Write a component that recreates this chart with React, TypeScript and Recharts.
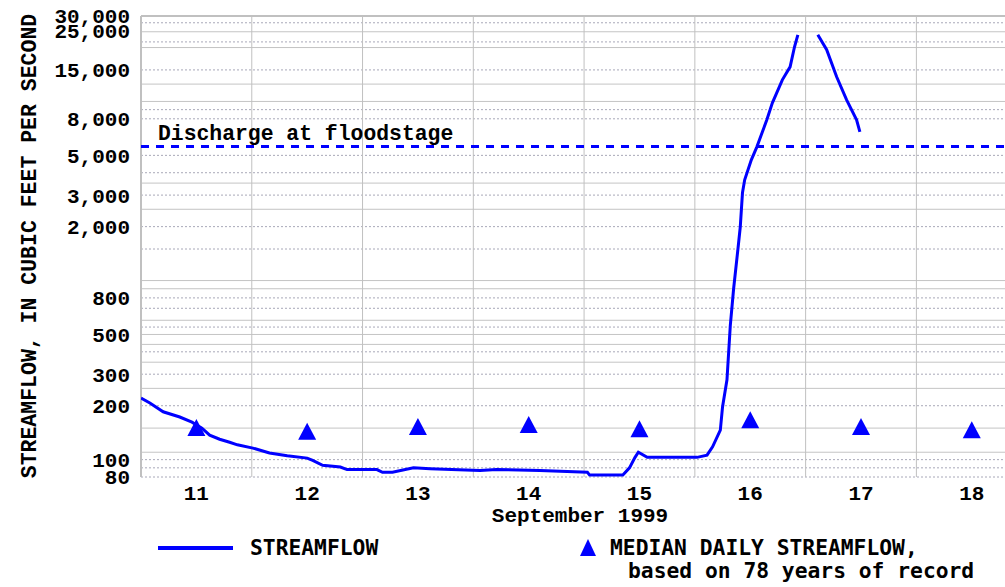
import React from "react";
import {
  ComposedChart,
  Line,
  Scatter,
  XAxis,
  YAxis,
  ReferenceLine,
} from "recharts";

// streamflow, days of September 1999 (fractional) vs cubic feet per second
const flowTimes = [
  11.0, 11.08, 11.2, 11.35, 11.46, 11.55, 11.62, 11.71, 11.8, 11.87, 12.01,
  12.16, 12.32, 12.5, 12.55, 12.64, 12.8, 12.86, 13.13, 13.18, 13.27, 13.46,
  13.61, 14.06, 14.21, 14.6, 15.03, 15.05, 15.35, 15.41, 15.46, 15.49, 15.57,
  16.02, 16.11, 16.16, 16.23, 16.25, 16.29, 16.32, 16.35, 16.39, 16.41, 16.43,
  16.45, 16.51, 16.56, 16.65, 16.7, 16.79, 16.86, 16.9, 16.93, 17.02, 17.11,
  17.19, 17.28, 17.37, 17.46, 17.49,
];
const flowValues: (number | null)[] = [
  221, 207, 185, 173, 162, 150, 137, 130, 125, 121, 116, 109, 105, 102, 99, 93,
  91, 88, 88, 85, 85, 90, 89, 87, 88, 87, 85, 82, 82, 90, 103, 110, 103, 103,
  106, 118, 146, 197, 279, 560, 900, 1520, 1990, 3090, 3650, 4720, 5580, 7900,
  9830, 13200, 15600, 20200, 23560, null, 23560, 19440, 13730, 10200, 7900,
  6770,
];

// median daily streamflow, 78 years of record
const medianDays = [11, 12, 13, 14, 15, 16, 17, 18];
const medianValues = [150, 143, 152, 156, 148, 166, 152, 146];

const floodstage = 5600;

const yTicks = [80, 100, 200, 300, 500, 800, 2000, 3000, 5000, 8000, 15000, 25000, 30000];
const xTicks = [11.5, 12.5, 13.5, 14.5, 15.5, 16.5, 17.5, 18.5];
const dayLines = [12, 13, 14, 15, 16, 17, 18];
const solidGrid = [110, 150, 250, 350, 440, 500, 600, 900, 1000, 2500, 3500, 10000, 12500, 20000, 24500];
const dottedGrid = [80, 90, 100, 200, 300, 400, 550, 700, 800, 1500, 2000, 3000, 4000, 5000, 8000, 9000, 15000, 21500, 27500];

const flowData = flowTimes.map((t, i) => ({ t, flow: flowValues[i] }));
const medianData = medianDays.map((d, i) => ({ t: d + 0.5, median: medianValues[i] }));

const axisFont = {
  fontFamily: "'Liberation Mono', monospace",
  fontWeight: 700,
  fontSize: 21,
  fill: "#000",
};

const legendFont: React.CSSProperties = {
  fontFamily: "'DejaVu Sans Mono', monospace",
  fontWeight: 700,
  fontSize: 21.3,
  color: "#000",
  position: "absolute",
  whiteSpace: "nowrap",
  lineHeight: "22px",
};

const Triangle = (props: any) => {
  const { cx, cy } = props;
  return (
    <polygon
      points={`${cx},${cy - 9} ${cx - 9},${cy + 8} ${cx + 9},${cy + 8}`}
      fill="#0000ff"
    />
  );
};

const FloodLabel = (props: any) => {
  const vb = props.viewBox || {};
  return (
    <text x={(vb.x ?? 0) + 17} y={(vb.y ?? 0) - 7} {...axisFont} fontSize={21.4}>
      Discharge at floodstage
    </text>
  );
};

export default function App() {
  return (
    <div style={{ position: "absolute", left: 0, top: 0, width: 1005, height: 587, background: "#fff" }}>
      <ComposedChart
        width={1005}
        height={587}
        margin={{ top: 16, right: 0, bottom: 80, left: 0 }}
      >
        <XAxis
          dataKey="t"
          type="number"
          domain={[11, 18.8]}
          ticks={xTicks}
          interval={0}
          allowDataOverflow
          tickFormatter={(v: number) => String(Math.floor(v))}
          axisLine={false}
          tickLine={false}
          height={30}
          tick={axisFont}
        />
        <YAxis
          scale="log"
          domain={[80, 30000]}
          ticks={yTicks}
          interval={0}
          allowDataOverflow
          tickFormatter={(v: number) => v.toLocaleString("en-US")}
          axisLine={false}
          tickLine={false}
          tickMargin={5}
          width={141}
          tick={axisFont}
        />
        {solidGrid.map((v) => (
          <ReferenceLine key={"s" + v} y={v} stroke="#c4c4c4" strokeWidth={1} />
        ))}
        {dottedGrid.map((v) => (
          <ReferenceLine key={"d" + v} y={v} stroke="#a8a8b8" strokeWidth={1} strokeDasharray="2 2" />
        ))}
        {dayLines.map((d) => (
          <ReferenceLine key={"x" + d} x={d} stroke="#c0c0c0" strokeWidth={1} />
        ))}
        <ReferenceLine x={11} stroke="#c0c0c0" strokeWidth={2} />
        <ReferenceLine y={30000} stroke="#c0c0c0" strokeWidth={2} />
        <ReferenceLine
          y={floodstage}
          stroke="#0000ff"
          strokeWidth={3}
          strokeDasharray="8 7"
          label={<FloodLabel />}
        />
        <Line
          data={flowData}
          dataKey="flow"
          type="linear"
          stroke="#0000ff"
          strokeWidth={3}
          dot={false}
          connectNulls={false}
          isAnimationActive={false}
        />
        <Scatter
          data={medianData}
          dataKey="median"
          shape={<Triangle />}
          isAnimationActive={false}
        />
      </ComposedChart>

      <div
        style={{
          ...legendFont,
          fontFamily: "'Liberation Mono', monospace",
          fontSize: 21.5,
          left: 30,
          top: 246,
          transform: "translate(-50%, -50%) rotate(-90deg)",
        }}
      >
        STREAMFLOW, IN CUBIC FEET PER SECOND
      </div>
      <div
        style={{
          ...legendFont,
          fontFamily: "'Liberation Mono', monospace",
          fontSize: 21,
          left: 580,
          top: 506,
          transform: "translateX(-50%)",
        }}
      >
        September 1999
      </div>

      <div style={{ position: "absolute", left: 158, top: 546, width: 75, height: 4, background: "#0000ff" }} />
      <div style={{ ...legendFont, left: 250, top: 537 }}>STREAMFLOW</div>
      <svg style={{ position: "absolute", left: 578, top: 538 }} width={20} height={20}>
        <polygon points="10,1 2,18 18,18" fill="#0000ff" />
      </svg>
      <div style={{ ...legendFont, left: 610, top: 537 }}>MEDIAN DAILY STREAMFLOW,</div>
      <div style={{ ...legendFont, left: 628, top: 560 }}>based on 78 years of record</div>
    </div>
  );
}
